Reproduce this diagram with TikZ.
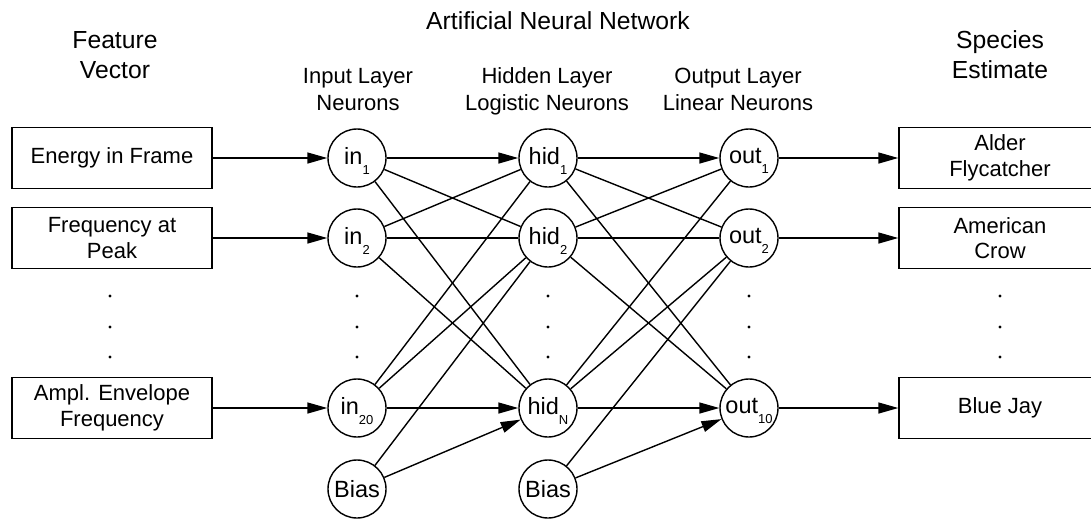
\documentclass[tikz,border=0pt]{standalone}
\usepackage{fontspec}
\setmainfont{Liberation Sans}
\usetikzlibrary{arrows.meta}

% type sizes
\newcommand{\ttlfont}{\fontsize{24.7}{30}\selectfont}
\newcommand{\lyrfont}{\fontsize{22}{27}\selectfont}
\newcommand{\boxfont}{\fontsize{22}{25.6}\selectfont}
\newcommand{\neufont}{\fontsize{23.5}{28}\selectfont}
\newcommand{\subfont}{\fontsize{13}{13}\selectfont}
% neuron label with a lowered index
\newcommand{\nsub}[2]{#1\raisebox{-10pt}[0pt][5pt]{\subfont #2}}

\tikzset{
  conn/.style={line width=1.4pt},
  arr/.style={conn, -{Triangle[length=20pt,width=11pt]}},
  neuron/.style={draw, circle, line width=1.4pt, minimum size=58pt, inner sep=0pt, font=\neufont},
  fbox/.style={draw, rectangle, line width=1.4pt, minimum width=200pt, minimum height=61pt,
               inner sep=0pt, align=center, font=\boxfont},
  sbox/.style={fbox, minimum width=202pt},
  vdot/.style={circle, fill, inner sep=0pt, minimum size=3.4pt},
  ttl/.style={anchor=base, inner sep=0pt, font=\ttlfont},
  lyr/.style={anchor=base, inner sep=0pt, font=\lyrfont},
}

\begin{document}
\begin{tikzpicture}[x=1pt, y=-1pt]
\path[use as bounding box, fill=white] (0,0) rectangle (1091,520);

% headings
\node[ttl] (ann) at (558,29) {Artificial Neural Network};
\node[ttl] (fv1) at (115,48) {Feature};
\node[ttl] (fv2) at (115,78) {Vector};
\node[ttl] (se1) at (1000,48) {Species};
\node[ttl] (se2) at (1000,78) {Estimate};
\node[lyr] (li1) at (358,83) {Input Layer};
\node[lyr] (li2) at (358,110) {Neurons};
\node[lyr] (lh1) at (547,83) {Hidden Layer};
\node[lyr] (lh2) at (547,110) {Logistic Neurons};
\node[lyr] (lo1) at (738,83) {Output Layer};
\node[lyr] (lo2) at (738,110) {Linear Neurons};

% feature vector
\node[fbox] (f1) at (112,158) {Energy in Frame};
\node[fbox] (f2) at (112,238) {Frequency at\\Peak};
\node[fbox] (f3) at (112,408) {Ampl. Envelope\\Frequency};

% species estimate
\node[sbox] (s1) at (1000,158) {Alder\\Flycatcher};
\node[sbox] (s2) at (1000,238) {American\\Crow};
\node[sbox] (s3) at (1000,408) {Blue Jay};

% neurons
\node[neuron] (in1)  at (357,158) {\nsub{in}{1}};
\node[neuron] (in2)  at (357,238) {\nsub{in}{2}};
\node[neuron] (in20) at (357,408) {\nsub{in}{20}};
\node[neuron] (inb)  at (357,489) {Bias};
\node[neuron] (hd1)  at (548,158) {\nsub{hid}{1}};
\node[neuron] (hd2)  at (548,238) {\nsub{hid}{2}};
\node[neuron] (hdN)  at (548,408) {\nsub{hid}{N}};
\node[neuron] (hdb)  at (548,489) {Bias};
\node[neuron] (ot1)  at (749,158) {\nsub{out}{1}};
\node[neuron] (ot2)  at (749,238) {\nsub{out}{2}};
\node[neuron] (ot10) at (749,408) {\nsub{out}{10}};

% ellipsis dots in every column
\foreach \c/\x in {fv/110, in/357, hd/548, ot/749, sp/1000}
  \foreach \k/\y in {1/296, 2/327, 3/357}
    \node[vdot] (dot-\c-\k) at (\x,\y) {};

% features into the input layer
\draw[arr] (f1) -- (in1);
\draw[arr] (f2) -- (in2);
\draw[arr] (f3) -- (in20);

% input layer to hidden layer
\draw[arr] (in1) -- (hd1);
\draw[arr] (in20) -- (hdN);
\draw[arr] (inb) -- (hdN);
\foreach \a/\b in {in1/hd2, in1/hdN, in2/hd1, in2/hd2, in2/hdN, in20/hd1, in20/hd2, inb/hd2}
  \draw[conn] (\a) -- (\b);

% hidden layer to output layer
\draw[arr] (hd1) -- (ot1);
\draw[arr] (hdN) -- (ot10);
\draw[arr] (hdb) -- (ot10);
\foreach \a/\b in {hd1/ot2, hd1/ot10, hd2/ot1, hd2/ot2, hd2/ot10, hdN/ot1, hdN/ot2, hdb/ot2}
  \draw[conn] (\a) -- (\b);

% outputs to species
\draw[arr] (ot1) -- (s1);
\draw[arr] (ot2) -- (s2);
\draw[arr] (ot10) -- (s3);
\end{tikzpicture}
\end{document}
